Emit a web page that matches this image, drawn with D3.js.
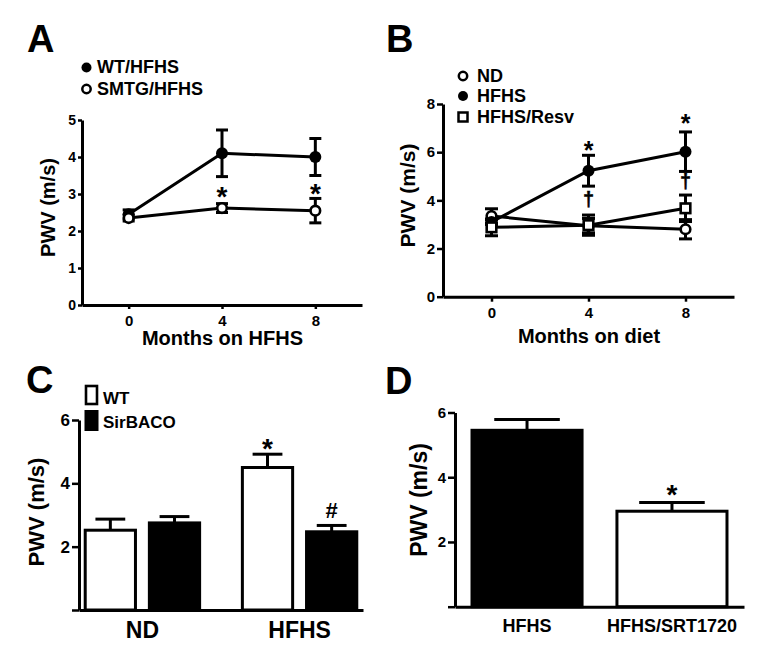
<!DOCTYPE html>
<html><head><meta charset="utf-8">
<script src="https://cdn.jsdelivr.net/npm/d3@7"></script>
<style>
html,body{margin:0;padding:0;background:#fff;}
svg text{font-family:'Liberation Sans',Arial,Helvetica,sans-serif;font-weight:bold;fill:#000;}
</style></head>
<body>
<svg id="fig" width="765" height="661"></svg>
<script>
// ---------- DATA ----------
// Panel A
const monthsA = [0, 4, 8];
const wtHFHS = [2.45, 4.1, 4.0];
const wtHFHSErr = [0.12, 0.63, 0.5];
const smtgHFHS = [2.35, 2.62, 2.55];
const smtgHFHSErr = [0.08, 0.12, 0.33];
const ticksAy = [0, 1, 2, 3, 4, 5];
const sigA = [{m: 4, v: 3.1, s: "*"}, {m: 8, v: 3.2, s: "*"}];
// Panel B
const monthsB = [0, 4, 8];
const ndB = [3.35, 2.95, 2.8];
const ndBErr = [0.3, 0.3, 0.4];
const hfhsB = [3.1, 5.23, 6.02];
const hfhsBErr = [0.1, 0.64, 0.82];
const resvB = [2.88, 2.97, 3.67];
const resvBErr = [0.35, 0.42, 0.55];
const ticksBy = [0, 2, 4, 6, 8];
const sigB = [{m: 4, v: 6.3, s: "*"}, {m: 8, v: 7.4, s: "*"}, {m: 4, v: 3.97, s: "†"}, {m: 8, v: 4.7, s: "†"}];
// Panel C
const groupsC = ["ND", "HFHS"];
const seriesC = ["WT", "SirBACO"];
const wtC = [2.52, 4.5];
const wtCErr = [0.35, 0.42];
const sirC = [2.75, 2.47];
const sirCErr = [0.2, 0.2];
const ticksCy = [0, 2, 4, 6];
const sigC = [{g: "HFHS", s: "WT", v: 5.3, t: "*"}, {g: "HFHS", s: "SirBACO", v: 3.17, t: "#"}];
// Panel D
const groupsD = ["HFHS", "HFHS/SRT1720"];
const valD = [5.45, 2.95];
const errD = [0.33, 0.27];
const ticksDy = [0, 2, 4, 6];
const sigD = [{g: "HFHS/SRT1720", v: 3.66, t: "*"}];

// ---------- DRAW ----------
const svg = d3.select("#fig");
svg.append("rect").attr("width", 765).attr("height", 661).attr("fill", "#fff");
const fmt = d3.format("d");

function styleAxis(g, fs) {
  g.attr("font-family", null).attr("font-size", null);
  g.selectAll("path.domain").attr("stroke", "#000").attr("stroke-width", 3);
  g.selectAll(".tick line").attr("stroke", "#000").attr("stroke-width", 2.5);
  g.selectAll(".tick text").style("font-size", fs + "px").style("font-weight", "bold")
    .attr("fill", "#000").style("font-family", "'Liberation Sans',Arial,sans-serif");
}
function letter(x, y, t) {
  svg.append("text").attr("x", x).attr("y", y).style("font-size", "38px").text(t);
}
function ylabel(x, y, fs) {
  svg.append("text").attr("transform", `translate(${x},${y}) rotate(-90)`)
    .attr("text-anchor", "middle").style("font-size", fs + "px").text("PWV (m/s)");
}

// ===== Panel A =====
letter(27, 52, "A");
const xA = d3.scaleLinear().domain([-2, 10]).range([82, 362]);
const yA = d3.scaleLinear().domain([0, 5]).range([305, 120]);
let g = svg.append("g").attr("transform", "translate(82,0)")
  .call(d3.axisLeft(yA).tickValues(ticksAy).tickFormat(fmt).tickSize(4).tickSizeOuter(0).tickPadding(2));
styleAxis(g, 14);
g = svg.append("g").attr("transform", "translate(0,305)")
  .call(d3.axisBottom(xA).tickValues([0, 4, 8]).tickFormat(fmt).tickSize(4).tickSizeOuter(0).tickPadding(6));
styleAxis(g, 15);
svg.append("text").attr("x", 222.5).attr("y", 345).attr("text-anchor", "middle")
  .style("font-size", "20px").text("Months on HFHS");
ylabel(55, 207.5, 20);

function drawSeries(xs, ys, vals, errs, cap) {
  const pts = xs.map((m, i) => ({m, v: vals[i], e: errs[i]}));
  svg.append("path").datum(pts)
    .attr("d", d3.line().x(d => xs.scale(d.m)).y(d => ys(d.v)))
    .attr("fill", "none").attr("stroke", "#000").attr("stroke-width", 3);
  const eg = svg.append("g");
  pts.forEach(d => {
    const cx = xs.scale(d.m);
    eg.append("line").attr("x1", cx).attr("x2", cx).attr("y1", ys(d.v + d.e)).attr("y2", ys(d.v - d.e))
      .attr("stroke", "#000").attr("stroke-width", 3);
    [d.v + d.e, d.v - d.e].forEach(v => eg.append("line")
      .attr("x1", cx - cap / 2).attr("x2", cx + cap / 2).attr("y1", ys(v)).attr("y2", ys(v))
      .attr("stroke", "#000").attr("stroke-width", 3));
  });
  return pts;
}
function drawMarkers(xs, ys, pts, marker) {
  pts.forEach(d => {
    const cx = xs.scale(d.m), cy = ys(d.v);
    if (marker === "filled") svg.append("circle").attr("cx", cx).attr("cy", cy).attr("r", 6).attr("fill", "#000");
    else if (marker === "open") svg.append("circle").attr("cx", cx).attr("cy", cy).attr("r", 4.8)
      .attr("fill", "#fff").attr("stroke", "#000").attr("stroke-width", 2.6);
    else svg.append("rect").attr("x", cx - 4.8).attr("y", cy - 4.8).attr("width", 9.6).attr("height", 9.6)
      .attr("fill", "#fff").attr("stroke", "#000").attr("stroke-width", 2.6);
  });
}
function sxs(arr, scale) { const a = arr.slice(); a.scale = scale; return a; }

const mA = sxs(monthsA, xA);
const pA1 = drawSeries(mA, yA, wtHFHS, wtHFHSErr, 12);
const pA2 = drawSeries(mA, yA, smtgHFHS, smtgHFHSErr, 12);
drawMarkers(mA, yA, pA1, "filled");
drawMarkers(mA, yA, pA2, "open");
sigA.forEach(d => svg.append("text").attr("x", xA(d.m)).attr("y", yA(d.v) + 16)
  .attr("text-anchor", "middle").style("font-size", "28px").text(d.s));
// legend A
svg.append("circle").attr("cx", 86.5).attr("cy", 67.5).attr("r", 5).attr("fill", "#000");
svg.append("text").attr("x", 97).attr("y", 72.5).style("font-size", "18px").text("WT/HFHS");
svg.append("circle").attr("cx", 86.5).attr("cy", 89).attr("r", 4.2).attr("fill", "#fff")
  .attr("stroke", "#000").attr("stroke-width", 2.5);
svg.append("text").attr("x", 97).attr("y", 94.5).style("font-size", "18px").text("SMTG/HFHS");

// ===== Panel B =====
letter(386, 52, "B");
const xB = d3.scaleLinear().domain([-2, 10]).range([443, 734]);
const yB = d3.scaleLinear().domain([0, 8]).range([296.7, 104]);
g = svg.append("g").attr("transform", "translate(443,0)")
  .call(d3.axisLeft(yB).tickValues(ticksBy).tickFormat(fmt).tickSize(6).tickSizeOuter(0).tickPadding(2));
styleAxis(g, 15);
g = svg.append("g").attr("transform", "translate(0,296.7)")
  .call(d3.axisBottom(xB).tickValues([0, 4, 8]).tickFormat(fmt).tickSize(5).tickSizeOuter(0).tickPadding(6));
styleAxis(g, 15);
svg.append("text").attr("x", 589).attr("y", 343).attr("text-anchor", "middle")
  .style("font-size", "20px").text("Months on diet");
ylabel(415, 195.5, 21);
const mB = sxs(monthsB, xB);
const pB1 = drawSeries(mB, yB, ndB, ndBErr, 13);
const pB2 = drawSeries(mB, yB, hfhsB, hfhsBErr, 13);
const pB3 = drawSeries(mB, yB, resvB, resvBErr, 13);
drawMarkers(mB, yB, pB1, "open");
drawMarkers(mB, yB, pB2, "filled");
drawMarkers(mB, yB, pB3, "square");
sigB.forEach(d => {
  const star = d.s === "*";
  svg.append("text").attr("x", xB(d.m)).attr("y", yB(d.v) + (star ? 14 : 5))
    .attr("text-anchor", "middle").style("font-size", star ? "25px" : "20px")
    .attr("stroke", star ? null : "#000").attr("stroke-width", star ? null : 0.5).text(d.s);
});
// legend B
svg.append("circle").attr("cx", 463).attr("cy", 76).attr("r", 4.2).attr("fill", "#fff")
  .attr("stroke", "#000").attr("stroke-width", 2.5);
svg.append("text").attr("x", 477).attr("y", 82).style("font-size", "18px").text("ND");
svg.append("circle").attr("cx", 463).attr("cy", 96).attr("r", 5).attr("fill", "#000");
svg.append("text").attr("x", 477).attr("y", 102).style("font-size", "18px").text("HFHS");
svg.append("rect").attr("x", 458.5).attr("y", 112.5).attr("width", 9).attr("height", 9)
  .attr("fill", "#fff").attr("stroke", "#000").attr("stroke-width", 2.5);
svg.append("text").attr("x", 477).attr("y", 123).style("font-size", "18px").text("HFHS/Resv");

// ===== Panel C =====
letter(26, 393, "C");
const x0C = d3.scaleBand().domain(groupsC).range([79, 363]).paddingInner(0.253).paddingOuter(0.03);
const x1C = d3.scaleBand().domain(seriesC).range([0, x0C.bandwidth()]).paddingInner(0.17);
const yC = d3.scaleLinear().domain([0, 6]).range([610, 420]);
const barsC = [];
groupsC.forEach((grp, i) => {
  barsC.push({g: grp, s: "WT", v: wtC[i], e: wtCErr[i], fill: "#fff"});
  barsC.push({g: grp, s: "SirBACO", v: sirC[i], e: sirCErr[i], fill: "#000"});
});
barsC.forEach(d => {
  const bx = x0C(d.g) + x1C(d.s), bw = x1C.bandwidth(), cx = bx + bw / 2, cw = bw * 0.56;
  svg.append("line").attr("x1", cx).attr("x2", cx).attr("y1", yC(d.v)).attr("y2", yC(d.v + d.e))
    .attr("stroke", "#000").attr("stroke-width", 3);
  svg.append("line").attr("x1", cx - cw / 2).attr("x2", cx + cw / 2).attr("y1", yC(d.v + d.e)).attr("y2", yC(d.v + d.e))
    .attr("stroke", "#000").attr("stroke-width", 3);
  svg.append("rect").attr("x", bx + 1.5).attr("y", yC(d.v)).attr("width", bw - 3).attr("height", yC(0) - yC(d.v))
    .attr("fill", d.fill).attr("stroke", "#000").attr("stroke-width", 3);
});
g = svg.append("g").attr("transform", "translate(79,0)")
  .call(d3.axisLeft(yC).tickValues(ticksCy).tickFormat(d => d === 0 ? "" : fmt(d)).tickSize(7).tickSizeOuter(0).tickPadding(2));
styleAxis(g, 17);
g = svg.append("g").attr("transform", "translate(0,610)")
  .call(d3.axisBottom(x0C).tickSize(0).tickSizeOuter(0).tickPadding(12));
styleAxis(g, 23);
ylabel(43.5, 512, 22);
sigC.forEach(d => {
  const cx = x0C(d.g) + x1C(d.s) + x1C.bandwidth() / 2;
  const star = d.t === "*";
  svg.append("text").attr("x", cx).attr("y", yC(d.v) + (star ? 16 : 8))
    .attr("text-anchor", "middle").style("font-size", star ? "28px" : "22px").text(d.t);
});
// legend C
svg.append("rect").attr("x", 86).attr("y", 386).attr("width", 11).attr("height", 18)
  .attr("fill", "#fff").attr("stroke", "#000").attr("stroke-width", 2.6);
svg.append("text").attr("x", 103).attr("y", 404).style("font-size", "17px").text("WT");
svg.append("rect").attr("x", 84.5).attr("y", 410).attr("width", 14).attr("height", 21).attr("fill", "#000");
svg.append("text").attr("x", 103).attr("y", 428).style("font-size", "17px").text("SirBACO");

// ===== Panel D =====
letter(385, 394, "D");
const xD = d3.scaleBand().domain(groupsD).range([455, 744]).paddingInner(0.22).paddingOuter(0.107);
const yD = d3.scaleLinear().domain([0, 6]).range([606.7, 412.5]);
const fillsD = ["#000", "#fff"];
groupsD.forEach((grp, i) => {
  const bx = xD(grp), bw = xD.bandwidth(), cx = bx + bw / 2, cw = bw * 0.58;
  svg.append("line").attr("x1", cx).attr("x2", cx).attr("y1", yD(valD[i])).attr("y2", yD(valD[i] + errD[i]))
    .attr("stroke", "#000").attr("stroke-width", 3);
  svg.append("line").attr("x1", cx - cw / 2).attr("x2", cx + cw / 2).attr("y1", yD(valD[i] + errD[i])).attr("y2", yD(valD[i] + errD[i]))
    .attr("stroke", "#000").attr("stroke-width", 3);
  svg.append("rect").attr("x", bx + 1.5).attr("y", yD(valD[i])).attr("width", bw - 3).attr("height", yD(0) - yD(valD[i]))
    .attr("fill", fillsD[i]).attr("stroke", "#000").attr("stroke-width", 3);
});
g = svg.append("g").attr("transform", "translate(455,0)")
  .call(d3.axisLeft(yD).tickValues(ticksDy).tickFormat(d => d === 0 ? "" : fmt(d)).tickSize(7).tickSizeOuter(0).tickPadding(2));
styleAxis(g, 15);
g = svg.append("g").attr("transform", "translate(0,606.7)")
  .call(d3.axisBottom(xD).tickSize(0).tickSizeOuter(0).tickPadding(12.5));
styleAxis(g, 18);
ylabel(427, 500, 23);
sigD.forEach(d => svg.append("text").attr("x", xD(d.g) + xD.bandwidth() / 2).attr("y", yD(d.v) + 16)
  .attr("text-anchor", "middle").style("font-size", "28px").text(d.t));
</script>
</body></html>
